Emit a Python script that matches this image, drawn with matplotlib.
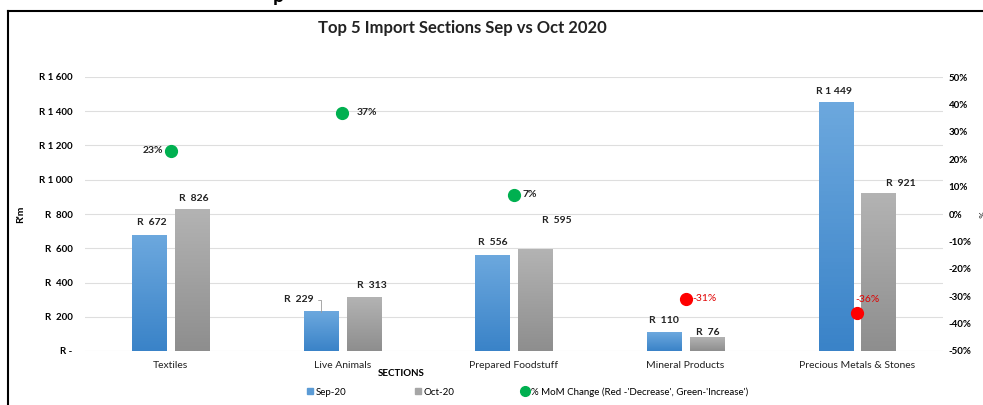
import numpy as np
import matplotlib.pyplot as plt
from matplotlib.colors import LinearSegmentedColormap
from matplotlib.lines import Line2D

# --- donnees (R'm) ---
sections = ["Textiles", "Live Animals", "Prepared Foodstuff",
            "Mineral Products", "Precious Metals & Stones"]
sep_20 = [672, 229, 556, 110, 1449]
oct_20 = [826, 313, 595, 76, 921]
mom_change = [0.23, 0.37, 0.07, -0.31, -0.36]

rand_ticks = [0, 200, 400, 600, 800, 1000, 1200, 1400, 1600]
pct_ticks = [-0.5, -0.4, -0.3, -0.2, -0.1, 0.0, 0.1, 0.2, 0.3, 0.4, 0.5]

# decalages des etiquettes (px) : (dx, dy)
SEP_OFF = [(2, 13), (-22, 12), (0, 13), (0, 12), (-2, 11)]
OCT_OFF = [(2, 11), (8, 12), (21, 29), (1, 5), (22, 10)]
PCT_OFF = [(-8, 0), (14, 0), (9, 0), (7, 0), (-2, 13)]
PCT_HA = ["right", "left", "left", "left", "left"]

FONT = ["Lato", "DejaVu Sans"]
plt.rcParams["font.family"] = FONT
PX = 0.72  # 1 px en points a dpi 100


def rand_fmt(v):
    if v == 0:
        return "R -"
    s = f"{v:,.0f}".replace(",", " ")
    return f"R {s}" if v >= 1000 else f"R  {s}"


def gradient_bars(ax, bars, top, bottom):
    cmap = LinearSegmentedColormap.from_list("g", [bottom, top])
    grad = np.linspace(0, 1, 64).reshape(-1, 1)
    for b in bars:
        x0, w, h = b.get_x(), b.get_width(), b.get_height()
        ax.imshow(grad, cmap=cmap, origin="lower", aspect="auto",
                  extent=[x0, x0 + w, 0, h], zorder=2)
        b.set_facecolor("none")


fig = plt.figure(figsize=(9.83, 4.05), dpi=100)
ax = fig.add_axes([85 / 983, 1 - 351 / 405, 858 / 983, 274 / 405])
x = np.arange(len(sections))
w = 0.2

b1 = ax.bar(x - 0.125, sep_20, w, color="#5b9bd5", zorder=2)
b2 = ax.bar(x + 0.125, oct_20, w, color="#a0a0a0", zorder=2)
gradient_bars(ax, b1, "#6ca8de", "#3a83c8")
gradient_bars(ax, b2, "#b3b3b3", "#8e8e8e")

ax.set_xlim(-0.5, len(sections) - 0.5)
ax.set_ylim(0, 1600)
ax.set_yticks(rand_ticks)
ax.set_yticklabels([rand_fmt(v) for v in rand_ticks])
ax.set_xticks(x)
ax.set_xticklabels(sections, fontsize=7.5, color="#222222")
ax.grid(axis="y", color="#dedede", lw=0.8, zorder=0)
ax.tick_params(axis="y", length=0, pad=9, labelsize=7)
ax.tick_params(axis="x", length=0, pad=7)
for lab in ax.get_yticklabels():
    lab.set_fontweight("bold")
for s in ax.spines.values():
    s.set_visible(False)
ax.set_ylabel("R'm", fontsize=7.5, fontweight="bold", labelpad=10)

# etiquettes des barres
for i in x:
    for bars, vals, off in ((b1, sep_20, SEP_OFF), (b2, oct_20, OCT_OFF)):
        b = bars[i]
        xc = b.get_x() + b.get_width() / 2
        dx, dy = off[i]
        kw = {}
        if dx < -10:
            kw["arrowprops"] = dict(arrowstyle="-", color="#9a9a9a", lw=0.6,
                                    connectionstyle="angle,angleA=0,angleB=90,rad=0",
                                    shrinkA=1, shrinkB=0)
        ax.annotate(rand_fmt(vals[i]), (xc, vals[i]), xytext=(dx * PX, dy * PX),
                    textcoords="offset points", ha="center", va="center",
                    fontsize=7.5, fontweight="bold", color="#222222", **kw)

# axe secondaire : variation MoM
ax2 = ax.twinx()
ax2.set_ylim(-0.5, 0.5)
ax2.set_yticks(pct_ticks)
ax2.set_yticklabels([f"{round(v * 100)}%" for v in pct_ticks])
ax2.tick_params(axis="y", length=0, pad=4, labelsize=7)
for lab in ax2.get_yticklabels():
    lab.set_fontweight("bold")
for s in ax2.spines.values():
    s.set_visible(False)
ax2.set_ylabel("%", fontsize=6, rotation=270, labelpad=9)

for i, v in enumerate(mom_change):
    col = "#00b050" if v >= 0 else "#ff0000"
    ax2.plot(x[i], v, "o", ms=8.5, color=col, zorder=4)
    dx, dy = PCT_OFF[i]
    ax2.annotate(f"{round(v * 100)}%", (x[i], v), xytext=(dx * PX, dy * PX),
                 textcoords="offset points", ha=PCT_HA[i], va="center",
                 fontsize=7.5, fontweight="bold" if v >= 0 else "normal",
                 color="#222222" if v >= 0 else "#e00000")

fig.text(0.470, 1 - 28 / 405, "Top 5 Import Sections Sep vs Oct 2020",
         ha="center", va="center", fontsize=12, fontweight="bold", color="#222222")
fig.text(401 / 983, 1 - 373 / 405, "SECTIONS", ha="center", va="center",
         fontsize=7, fontweight="bold")

handles = [
    Line2D([], [], ls="", marker="s", ms=5, color="#5b9bd5"),
    Line2D([], [], ls="", marker="s", ms=5, color="#a6a6a6"),
    Line2D([], [], ls="", marker="o", ms=7, color="#00b050"),
]
labels = ["Sep-20", "Oct-20", "% MoM Change (Red -'Decrease', Green-'Increase')"]
fig.legend(handles, labels, loc="center", bbox_to_anchor=(527 / 983, 1 - 392 / 405),
           ncol=3, frameon=False, fontsize=7, handletextpad=0.1,
           columnspacing=6.8, handlelength=1)

# cadre (haut + gauche) et fragment de texte coupe
fig.add_artist(Line2D([8 / 983, 1], [1 - 11 / 405] * 2, color="black", lw=1.5))
fig.add_artist(Line2D([8 / 983] * 2, [0, 1 - 11 / 405], color="black", lw=1.5))
fig.text(278 / 983, 1 - 2 / 405, "p", ha="center", va="baseline",
         fontsize=14, fontweight="bold")

fig.savefig("out.png", dpi=100)
